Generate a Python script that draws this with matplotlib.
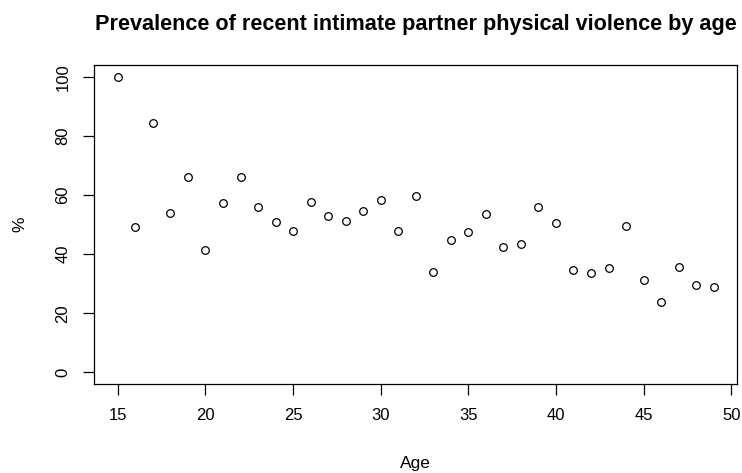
import numpy as np
import matplotlib.pyplot as plt

plt.rcParams['font.family'] = ['Liberation Sans', 'DejaVu Sans']

# Recent intimate partner physical violence, % by age
age = np.arange(15, 50)
pct = [100.0, 49.3, 84.5, 53.8, 66.2, 41.4, 57.4, 66.2, 55.9, 50.9,
       47.8, 57.8, 52.8, 51.3, 54.7, 58.2, 47.8, 59.8, 34.1, 44.8,
       47.5, 53.6, 42.5, 43.3, 55.8, 50.4, 34.5, 33.7, 35.2, 49.4,
       31.1, 23.7, 35.6, 29.5, 29.0]

xticks = [15, 20, 25, 30, 35, 40, 45, 50]
yticks = [0, 20, 40, 60, 80, 100]

fig = plt.figure(figsize=(7.42, 4.73), dpi=100)
ax = fig.add_axes([0.1267, 0.188, 0.8672, 0.6744])
ax.plot(age, pct, 'o', mfc='white', mec='black', mew=0.9, ms=5.5)

ax.set_xlim(13.64, 50.36)
ax.set_ylim(-4, 104)
ax.set_xticks(xticks)
ax.set_yticks(yticks)
ax.set_yticklabels([str(t) for t in yticks], rotation=90, va='center')
ax.tick_params(direction='out', length=8, width=0.9, labelsize=12)
ax.tick_params(axis='x', pad=9)
ax.tick_params(axis='y', pad=9)
for s in ax.spines.values():
    s.set_linewidth(0.9)

ax.set_title("Prevalence of recent intimate partner physical violence by age",
             fontsize=15.6, fontweight='bold', pad=25)
ax.set_xlabel("Age", fontsize=12.5, labelpad=24)
ax.set_ylabel("%", fontsize=12.5, labelpad=20)

fig.savefig("out.png", dpi=100)
